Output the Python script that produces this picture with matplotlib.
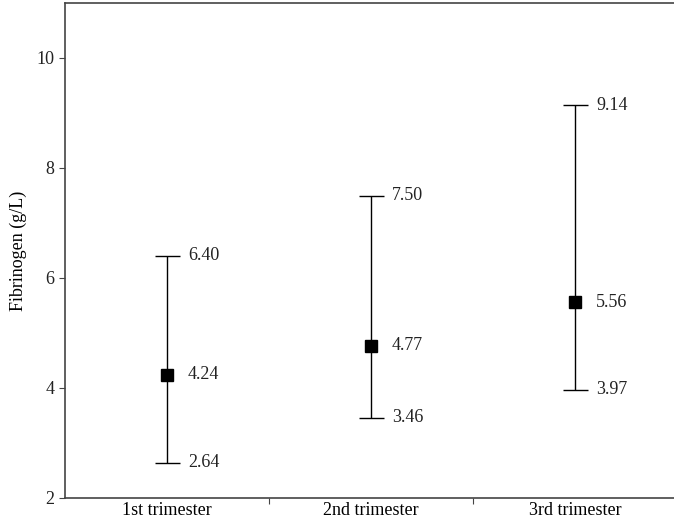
import matplotlib.pyplot as plt
from matplotlib.transforms import offset_copy

groups = ['1st trimester', '2nd trimester', '3rd trimester']
medians = [4.24, 4.77, 5.56]
lows = [2.64, 3.46, 3.97]
highs = [6.40, 7.50, 9.14]

plt.rcParams['font.family'] = ['Liberation Serif', 'DejaVu Serif']
plt.rcParams['font.size'] = 13

fig = plt.figure(figsize=(6.74, 5.27), dpi=100)
ax = fig.add_axes([65 / 674, 29 / 527, 612 / 674, 495 / 527])

x = [i + 0.5 for i in range(len(groups))]
yerr = [[m - lo for m, lo in zip(medians, lows)], [hi - m for m, hi in zip(medians, highs)]]
ax.errorbar(x, medians, yerr=yerr, fmt='s', color='black', ms=8, elinewidth=1,
            capsize=9, capthick=1)

# value labels to the right of each bar
tr = offset_copy(ax.transData, fig=fig, x=21, y=0, units='dots')
for xi, m, lo, hi in zip(x, medians, lows, highs):
    for v in (lo, m, hi):
        ax.text(xi, v, '%.2f' % v, transform=tr, va='center', ha='left', color='#222222')

ax.set_xlim(0, 3)
ax.set_ylim(2, 11)
ax.set_yticks([2, 4, 6, 8, 10])
ax.set_xticks([1, 2])
ax.set_xticklabels([])
ax.set_xticks(x, minor=True)
ax.set_xticklabels(groups, minor=True)
ax.tick_params(axis='x', which='minor', length=0, pad=3)
ax.tick_params(axis='x', which='major', direction='out', length=4, color='#444444')
ax.tick_params(axis='y', direction='out', length=4, color='#444444', labelcolor='#222222')
ax.set_ylabel('Fibrinogen (g/L)', labelpad=7)

for s in ['left', 'bottom', 'top']:
    ax.spines[s].set_color('#444444')
    ax.spines[s].set_linewidth(1.2)
ax.spines['right'].set_visible(False)

fig.savefig('out.png', dpi=100)
